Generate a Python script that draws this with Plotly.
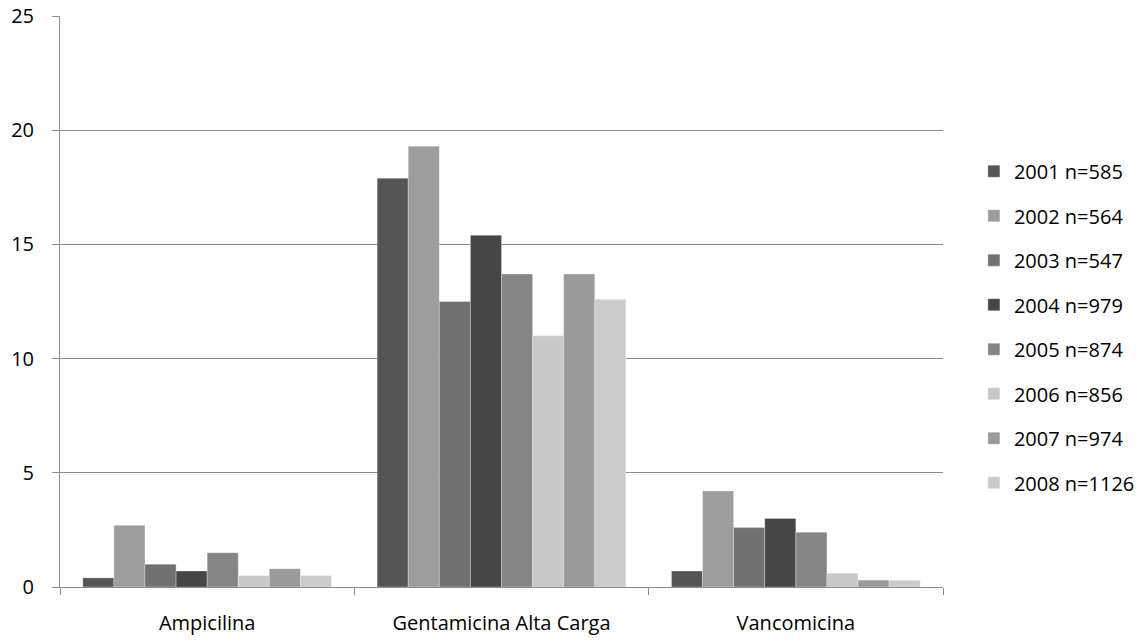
import plotly.graph_objects as go

categories = ["Ampicilina", "Gentamicina Alta Carga", "Vancomicina"]
series_names = ["2001 n=585", "2002 n=564", "2003 n=547", "2004 n=979",
                "2005 n=874", "2006 n=856", "2007 n=974", "2008 n=1126"]
values_2001 = [0.4, 17.9, 0.7]
values_2002 = [2.7, 19.3, 4.2]
values_2003 = [1.0, 12.5, 2.6]
values_2004 = [0.7, 15.4, 3.0]
values_2005 = [1.5, 13.7, 2.4]
values_2006 = [0.5, 11.0, 0.6]
values_2007 = [0.8, 13.7, 0.3]
values_2008 = [0.5, 12.6, 0.3]
series_values = [values_2001, values_2002, values_2003, values_2004,
                 values_2005, values_2006, values_2007, values_2008]
colors = ["#555555", "#9d9d9d", "#717171", "#464646",
          "#858585", "#c8c8c8", "#9a9a9a", "#cbcbcb"]
y_ticks = [0, 5, 10, 15, 20, 25]

fig = go.Figure()
for i, (name, vals, col) in enumerate(zip(series_names, series_values, colors)):
    fig.add_trace(go.Bar(
        x=categories, y=vals, name=name,
        marker=dict(color=col, line=dict(color="rgba(255,255,255,0.6)", width=0.5)),
        legendgroup=f"g{i}",
    ))

font_family = "Open Sans, Liberation Sans, DejaVu Sans, sans-serif"
fig.update_layout(
    width=1146, height=641,
    margin=dict(l=60, r=203, t=16, b=54, autoexpand=False),
    paper_bgcolor="white", plot_bgcolor="white",
    barmode="group", bargap=0.155, bargroupgap=0,
    font=dict(family=font_family, size=20, color="#000000"),
    legend=dict(x=1.035, y=0.455, xanchor="left", yanchor="middle",
                tracegroupgap=15.5, font=dict(size=20), bgcolor="rgba(0,0,0,0)"),
    showlegend=True,
)
fig.update_xaxes(
    showline=True, linecolor="#8c8c8c", linewidth=1,
    ticks="outside", tickson="boundaries", ticklen=7, tickcolor="#8c8c8c",
    showgrid=False, tickfont=dict(size=20), ticklabelstandoff=18, automargin=False,
)
fig.update_yaxes(
    range=[0, 25], tickvals=y_ticks, showgrid=True, gridcolor="#8c8c8c", gridwidth=1,
    showline=True, linecolor="#8c8c8c", linewidth=1,
    ticks="outside", ticklen=7, tickcolor="#8c8c8c", zeroline=False,
    tickfont=dict(size=20), ticklabelstandoff=14, automargin=False,
)
fig.write_html("out.html")
